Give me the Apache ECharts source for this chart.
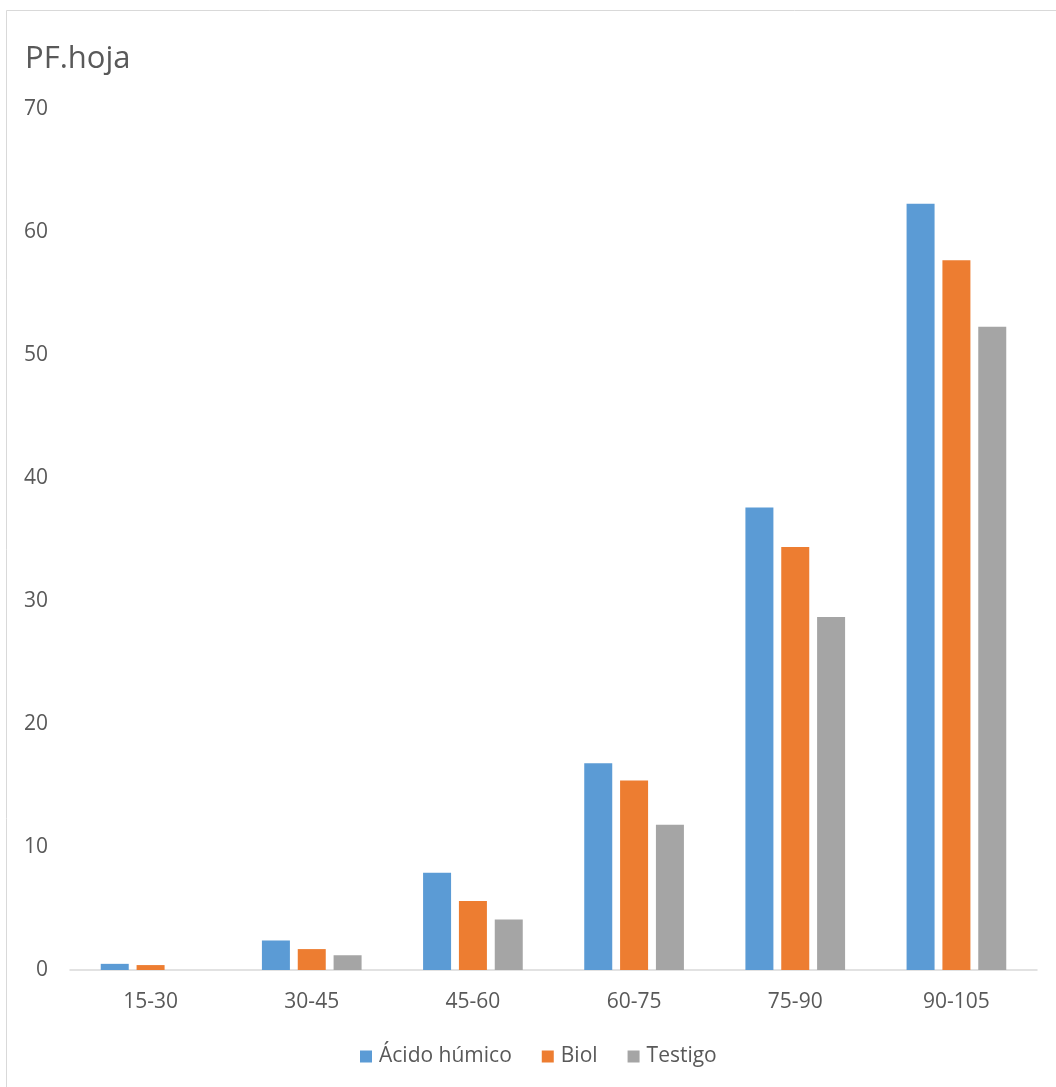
<!DOCTYPE html>
<html>
<head>
<meta charset="utf-8">
<script src="https://cdn.jsdelivr.net/npm/echarts@6/dist/echarts.min.js"></script>
<style>
  html, body { margin: 0; padding: 0; background: #fff; }
  #chart { width: 1056px; height: 1087px; }
</style>
</head>
<body>
<div id="chart"></div>
<script>
// Leaf fresh weight by age interval and treatment
const categories = ['15-30', '30-45', '45-60', '60-75', '75-90', '90-105'];
const acidoHumico = [0.5, 2.4, 7.9, 16.8, 37.6, 62.3];
const biol = [0.4, 1.7, 5.6, 15.4, 34.4, 57.7];
const testigo = [0, 1.2, 4.1, 11.8, 28.7, 52.3];
const yTicks = { min: 0, max: 70, interval: 10 };

const FONT = '"Open Sans", "Noto Sans", sans-serif';
const TEXT = '#595959';

const chart = echarts.init(document.getElementById('chart'), null, { renderer: 'canvas' });

function barSeries(name, data, color) {
  return {
    name: name,
    type: 'bar',
    data: data,
    barWidth: 28,
    barGap: '28%',
    itemStyle: { color: color },
    emphasis: { disabled: true }
  };
}

chart.setOption({
  animation: false,
  backgroundColor: '#ffffff',
  graphic: [{
    type: 'rect',
    shape: { x: 6.5, y: 10.5, width: 1200, height: 1200 },
    style: { fill: 'none', stroke: '#d9d9d9', lineWidth: 1 },
    silent: true
  }],
  title: {
    text: 'PF.hoja',
    left: 20,
    top: 39,
    textStyle: { fontFamily: FONT, fontSize: 31, fontWeight: 'normal', color: TEXT }
  },
  legend: {
    bottom: 15,
    left: 355,
    itemWidth: 12,
    itemHeight: 12,
    itemGap: 30,
    icon: 'rect',
    textStyle: { fontFamily: FONT, fontSize: 21, color: TEXT, padding: [0, 0, 0, 2] },
    data: ['Ácido húmico', 'Biol', 'Testigo']
  },
  grid: { left: 70, right: 19, top: 109, bottom: 117, containLabel: false },
  xAxis: {
    type: 'category',
    data: categories,
    axisLine: { lineStyle: { color: '#d9d9d9', width: 1.5 } },
    axisTick: { show: false },
    axisLabel: { fontFamily: FONT, fontSize: 21, color: TEXT, margin: 22 }
  },
  yAxis: {
    type: 'value',
    min: yTicks.min,
    max: yTicks.max,
    interval: yTicks.interval,
    axisLine: { show: false },
    axisTick: { show: false },
    splitLine: { show: false },
    axisLabel: { fontFamily: FONT, fontSize: 21, color: TEXT, margin: 22 }
  },
  series: [
    barSeries('Ácido húmico', acidoHumico, '#5B9BD5'),
    barSeries('Biol', biol, '#ED7D31'),
    barSeries('Testigo', testigo, '#A5A5A5')
  ]
});
</script>
</body>
</html>
